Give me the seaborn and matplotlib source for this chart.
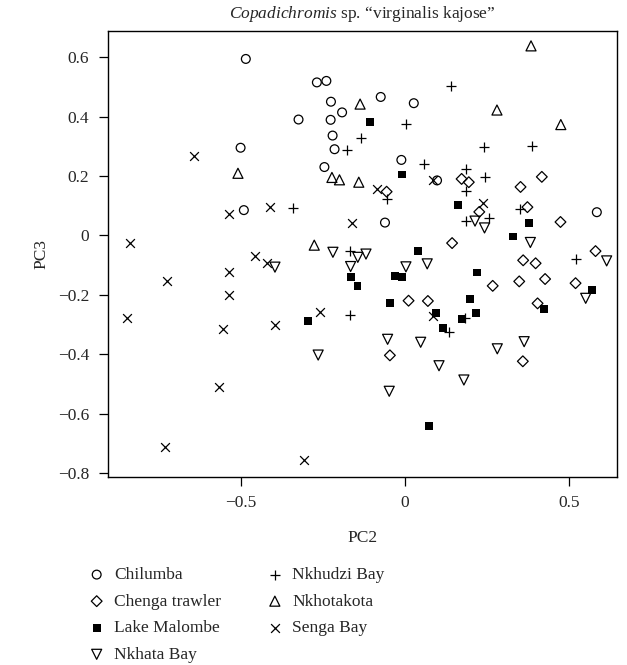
import matplotlib
matplotlib.use('Agg')
import matplotlib.pyplot as plt
import seaborn as sns
import pandas as pd

# ── Data (PC scores) ──

SITES = ['Chilumba', 'Chenga trawler', 'Lake Malombe', 'Nkhata Bay',
         'Nkhudzi Bay', 'Nkhotakota', 'Senga Bay']

chilumba_pc2 = [-0.486, -0.269, -0.240, -0.226, -0.192, -0.325, -0.227, -0.221, -0.502,
                -0.215, -0.246, -0.492, -0.074, 0.027, -0.011, 0.098, -0.061, 0.586]
chilumba_pc3 = [0.594, 0.515, 0.520, 0.450, 0.414, 0.390, 0.389, 0.336, 0.295,
                0.290, 0.230, 0.085, 0.466, 0.445, 0.254, 0.185, 0.043, 0.078]

chenga_pc2 = [0.173, 0.195, -0.056, 0.353, 0.418, 0.227, 0.374, 0.475, 0.144, 0.361, 0.399,
              0.582, 0.349, 0.428, 0.521, 0.268, 0.405, 0.011, 0.070, -0.046, 0.360]
chenga_pc3 = [0.190, 0.179, 0.147, 0.163, 0.197, 0.079, 0.095, 0.045, -0.026, -0.084, -0.094,
              -0.053, -0.155, -0.147, -0.161, -0.170, -0.229, -0.220, -0.221, -0.404, -0.424]

malombe_pc2 = [-0.106, -0.008, 0.163, 0.380, 0.331, 0.041, -0.166, -0.145, -0.031, -0.008, 0.221,
               0.570, 0.425, -0.045, 0.199, 0.095, 0.217, 0.173, 0.117, -0.295, 0.074]
malombe_pc3 = [0.381, 0.205, 0.101, 0.041, -0.004, -0.052, -0.141, -0.171, -0.137, -0.141, -0.125,
               -0.184, -0.249, -0.229, -0.215, -0.260, -0.262, -0.282, -0.313, -0.289, -0.642]

nkhata_pc2 = [0.214, 0.243, 0.383, -0.220, -0.144, -0.119, -0.166, -0.397, 0.003, 0.068,
              0.616, 0.552, -0.053, 0.048, 0.282, 0.364, 0.104, 0.180, -0.048, -0.265]
nkhata_pc3 = [0.048, 0.025, -0.024, -0.057, -0.074, -0.063, -0.105, -0.107, -0.106, -0.096,
              -0.086, -0.212, -0.350, -0.360, -0.382, -0.358, -0.439, -0.487, -0.525, -0.403]

nkhudzi_pc2 = [-0.343, -0.178, -0.135, 0.140, 0.003, 0.242, 0.387, 0.058, 0.186, 0.244,
               0.186, -0.056, 0.351, 0.186, 0.257, -0.167, 0.522, -0.168, 0.182, 0.134]
nkhudzi_pc3 = [0.093, 0.289, 0.329, 0.504, 0.376, 0.299, 0.302, 0.239, 0.225, 0.197,
               0.148, 0.124, 0.090, 0.048, 0.059, -0.051, -0.080, -0.269, -0.279, -0.326]

nkhotakota_pc2 = [-0.510, -0.223, -0.200, -0.141, -0.137, 0.385, 0.281, 0.476, -0.277]
nkhotakota_pc3 = [0.209, 0.195, 0.187, 0.179, 0.442, 0.638, 0.422, 0.373, -0.033]

senga_pc2 = [-0.644, -0.538, -0.412, -0.163, -0.084, 0.086, 0.239, -0.839, -0.458, -0.422, -0.537,
             -0.728, -0.537, -0.848, -0.556, -0.398, -0.260, 0.086, -0.567, -0.733, -0.308]
senga_pc3 = [0.267, 0.071, 0.097, 0.042, 0.155, 0.185, 0.108, -0.025, -0.068, -0.094, -0.123,
             -0.155, -0.202, -0.277, -0.314, -0.303, -0.259, -0.272, -0.509, -0.711, -0.756]

XTICKS = [-0.5, 0, 0.5]
XTICK_LABELS = ['\u22120.5', '0', '0.5']
YTICKS = [-0.8, -0.6, -0.4, -0.2, 0, 0.2, 0.4, 0.6]
YTICK_LABELS = ['\u22120.8', '\u22120.6', '\u22120.4', '\u22120.2', '0', '0.2', '0.4', '0.6']

TITLE = '$\\mathit{Copadichromis}$ sp. \u201cvirginalis kajose\u201d'

# marker, fill mode, size (pt^2)
MARKERS = {
    'Chilumba':       ('o', 'open', 40),
    'Chenga trawler': ('D', 'open', 30),
    'Lake Malombe':   ('s', 'solid', 32),
    'Nkhata Bay':     ('v', 'open', 52),
    'Nkhudzi Bay':    ('+', 'line', 62),
    'Nkhotakota':     ('^', 'open', 52),
    'Senga Bay':      ('x', 'line', 40),
}

groups = {
    'Chilumba': (chilumba_pc2, chilumba_pc3),
    'Chenga trawler': (chenga_pc2, chenga_pc3),
    'Lake Malombe': (malombe_pc2, malombe_pc3),
    'Nkhata Bay': (nkhata_pc2, nkhata_pc3),
    'Nkhudzi Bay': (nkhudzi_pc2, nkhudzi_pc3),
    'Nkhotakota': (nkhotakota_pc2, nkhotakota_pc3),
    'Senga Bay': (senga_pc2, senga_pc3),
}

df = pd.concat([pd.DataFrame({'site': s, 'pc2': groups[s][0], 'pc3': groups[s][1]})
                for s in SITES], ignore_index=True)

# ── Style ──
sns.set_style('ticks')
plt.rcParams['font.family'] = ['Liberation Serif', 'DejaVu Serif']
plt.rcParams['mathtext.fontset'] = 'custom'
plt.rcParams['mathtext.rm'] = 'Liberation Serif'
plt.rcParams['mathtext.it'] = 'Liberation Serif:italic'
FS = 12.5

fig = plt.figure(figsize=(6.27, 6.65), dpi=100)
ax = fig.add_axes([0.1722, 0.2832, 0.8118, 0.6706])

for site in SITES:
    sub = df[df['site'] == site]
    m, mode, size = MARKERS[site]
    kw = dict(marker=m, s=size, linewidth=0.9, label=site, legend=False, ax=ax)
    if mode == 'open':
        kw.update(facecolor='none', edgecolor='black')
    elif mode == 'solid':
        kw.update(color='black', edgecolor='none')
    else:
        kw.update(color='black')
    sns.scatterplot(data=sub, x='pc2', y='pc3', **kw)

ax.set_xlim(-0.907, 0.6475)
ax.set_ylim(-0.8125, 0.689)
ax.set_xticks(XTICKS)
ax.set_xticklabels(XTICK_LABELS)
ax.set_yticks(YTICKS)
ax.set_yticklabels(YTICK_LABELS)
ax.tick_params(direction='out', length=6.5, width=0.9, color='black',
               labelsize=FS, pad=7)
for sp in ax.spines.values():
    sp.set_linewidth(1.0)
    sp.set_color('black')

ax.set_xlabel('PC2', fontsize=FS)
ax.set_ylabel('PC3', fontsize=FS)
ax.xaxis.set_label_coords(0.5, -0.12)
ax.yaxis.set_label_coords(-0.115, 0.5)
ax.set_title(TITLE, fontsize=FS, pad=9)

handles, labels = ax.get_legend_handles_labels()
fig.legend(handles, labels, ncol=2, loc='upper left',
           bbox_to_anchor=(88 / 627, 1 - 567 / 665), frameon=False,
           fontsize=FS, handlelength=1.0, handletextpad=0.5,
           columnspacing=2.6, labelspacing=0.6, borderpad=0,
           borderaxespad=0, scatterpoints=1)

fig.savefig('out.png', dpi=100)
plt.close(fig)
